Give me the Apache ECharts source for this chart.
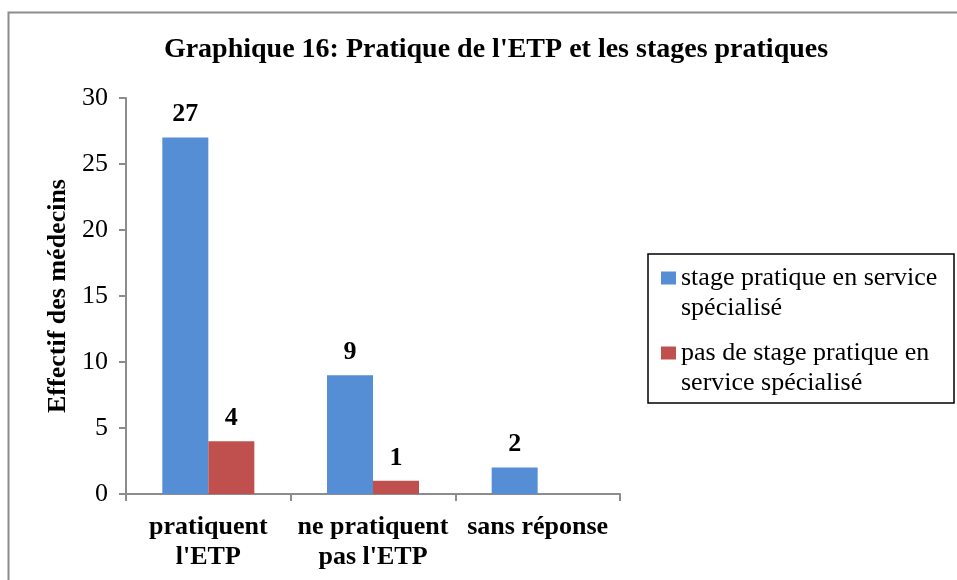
<!DOCTYPE html>
<html>
<head>
<meta charset="utf-8">
<script src="https://cdn.jsdelivr.net/npm/echarts@6/dist/echarts.min.js"></script>
<style>
    html, body { margin: 0; padding: 0; background: #fff; }
    #chart { width: 957px; height: 580px; }
</style>
</head>
<body>
<div id="chart"></div>
<script>
let categories = ['pratiquent\nl\'ETP', 'ne pratiquent\npas l\'ETP', 'sans réponse'];
let seriesNames = ['stage pratique en service spécialisé', 'pas de stage pratique en service spécialisé'];
let stageValues = [27, 9, 2];
let noStageValues = [4, 1, null];
let yTicks = { min: 0, max: 30, interval: 5 };

// legend text is wrapped by hand like in the original,
// the leading blank line keeps the colour box next to the first line
let legendLines = {
    'stage pratique en service spécialisé': '\nstage pratique en service\nspécialisé',
    'pas de stage pratique en service spécialisé': '\npas de stage pratique en\nservice spécialisé',
};

let serif = '"Liberation Serif", "Times New Roman", serif';

let chart = echarts.init(document.getElementById('chart'));

let labelStyle = {
    show: true,
    position: 'top',
    distance: 10,
    fontFamily: serif,
    fontWeight: 'bold',
    fontSize: 26,
    color: '#000',
};

let option = {
    animation: false,
    graphic: [
        {
            type: 'rect',
            shape: { x: 8.5, y: 12.5, width: 1000, height: 700 },
            style: { fill: 'none', stroke: '#8c8c8c', lineWidth: 2 },
            z: -10,
        },
        {
            // legend frame
            type: 'rect',
            shape: { x: 648, y: 254, width: 306, height: 149 },
            style: { fill: 'none', stroke: '#000', lineWidth: 1.5 },
        },
    ],
    title: {
        text: 'Graphique 16: Pratique de l\'ETP et les stages pratiques',
        left: 491,
        textAlign: 'center',
        top: 31,
        textStyle: {
            fontFamily: serif,
            fontWeight: 'bold',
            fontSize: 28,
            color: '#000',
        },
    },
    legend: {
        orient: 'vertical',
        left: 661,
        top: 233,
        padding: 0,
        itemGap: -15,
        itemWidth: 15,
        itemHeight: 13,
        icon: 'rect',
        data: seriesNames,
        formatter: function (name) {
            return legendLines[name];
        },
        textStyle: {
            fontFamily: serif,
            fontSize: 26,
            lineHeight: 30,
            color: '#000',
        },
    },
    grid: {
        left: 126,
        top: 98,
        right: 337,
        bottom: 86,
    },
    xAxis: {
        type: 'category',
        data: categories,
        axisLine: { lineStyle: { color: '#8c8c8c', width: 2 } },
        axisTick: { show: true, length: 7, lineStyle: { color: '#8c8c8c', width: 2 } },
        axisLabel: {
            margin: 18,
            interval: 0,
            fontFamily: serif,
            fontWeight: 'bold',
            fontSize: 26,
            lineHeight: 30,
            color: '#000',
        },
    },
    yAxis: {
        type: 'value',
        min: yTicks.min,
        max: yTicks.max,
        interval: yTicks.interval,
        name: 'Effectif des médecins',
        nameLocation: 'middle',
        nameGap: 54,
        nameTextStyle: {
            fontFamily: serif,
            fontWeight: 'bold',
            fontSize: 26,
            color: '#000',
        },
        splitLine: { show: false },
        axisLine: { show: true, lineStyle: { color: '#8c8c8c', width: 2 } },
        axisTick: { show: true, length: 7, lineStyle: { color: '#8c8c8c', width: 2 } },
        axisLabel: {
            margin: 18,
            fontFamily: serif,
            fontSize: 26,
            color: '#000',
        },
    },
    series: [
        {
            name: seriesNames[0],
            type: 'bar',
            data: stageValues,
            barWidth: 46,
            barGap: '0%',
            itemStyle: { color: '#558ed5' },
            label: labelStyle,
        },
        {
            name: seriesNames[1],
            type: 'bar',
            data: noStageValues,
            barWidth: 46,
            itemStyle: { color: '#c0504d' },
            label: labelStyle,
        },
    ],
};

chart.setOption(option);
</script>
</body>
</html>
